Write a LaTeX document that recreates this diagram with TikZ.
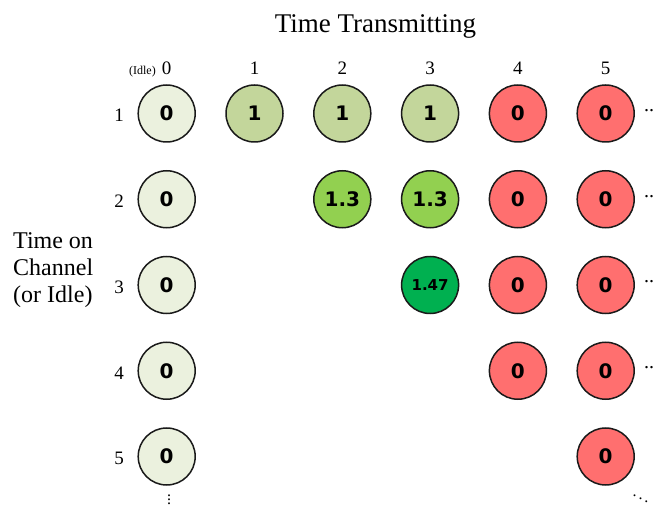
\documentclass[tikz,border=0pt]{standalone}
\usepackage{fontspec}
\setmainfont{Liberation Serif}
\newfontfamily\numfont{DejaVu Sans}
\usetikzlibrary{positioning}

\definecolor{idlefill}{HTML}{EBF1DE}
\definecolor{onefill}{HTML}{C3D69B}
\definecolor{midfill}{HTML}{92D050}
\definecolor{topfill}{HTML}{00B050}
\definecolor{zerofill}{HTML}{FF6F6F}
\definecolor{rimcol}{HTML}{1A1A1A}

\tikzset{
  cell/.style={circle, draw=rimcol, line width=1.5pt, minimum size=57pt,
    inner sep=0pt, font=\numfont\bfseries\fontsize{20}{20}\selectfont},
  idle/.style={cell, fill=idlefill},
  tone/.style={cell, fill=onefill},
  tmid/.style={cell, fill=midfill},
  ttop/.style={cell, fill=topfill, font=\numfont\bfseries\fontsize{15}{15}\selectfont},
  tzero/.style={cell, fill=zerofill},
  axislbl/.style={inner sep=0pt, font=\fontsize{19}{19}\selectfont},
  more/.style={inner sep=0pt, font=\fontsize{20}{20}\selectfont},
  moresmall/.style={inner sep=0pt, font=\fontsize{16}{16}\selectfont}
}

\begin{document}
\begin{tikzpicture}[x=1pt, y=-1pt]
  \useasboundingbox (0,0) rectangle (657,508);

  % column x positions and row y positions
  \def\cA{166.7}\def\cB{254.5}\def\cC{342.3}\def\cD{430.1}\def\cE{517.9}\def\cF{605.7}
  \def\rA{113.5}\def\rB{199.25}\def\rC{285}\def\rD{370.75}\def\rE{456.5}

  % headings
  \node[inner sep=0pt, anchor=base, font=\fontsize{27}{27}\selectfont] (title) at (375.5,33) {Time Transmitting};
  \node[inner sep=0pt, anchor=west, align=left, font=\fontsize{24}{27}\selectfont] (side) at (13,270) {Time on\\Channel\\(or Idle)};

  % column numbers
  \node[axislbl] (h0) at (\cA,68) {0};
  \node[inner sep=0pt, anchor=base east, font=\fontsize{12}{12}\selectfont] (hidle) at (156,75) {(Idle)};
  \node[axislbl] (h1) at (\cB,68) {1};
  \node[axislbl] (h2) at (\cC,68) {2};
  \node[axislbl] (h3) at (\cD,68) {3};
  \node[axislbl] (h4) at (\cE,68) {4};
  \node[axislbl] (h5) at (\cF,68) {5};

  % row numbers
  \node[axislbl] (v1) at (119,\rA+2) {1};
  \node[axislbl] (v2) at (119,\rB+2) {2};
  \node[axislbl] (v3) at (119,\rC+2) {3};
  \node[axislbl] (v4) at (119,\rD+2) {4};
  \node[axislbl] (v5) at (119,\rE+2) {5};

  % row 1
  \node[idle]  (a1) at (\cA,\rA) {0};
  \node[tone]  (b1) at (\cB,\rA) {1};
  \node[tone]  (c1) at (\cC,\rA) {1};
  \node[tone]  (d1) at (\cD,\rA) {1};
  \node[tzero] (e1) at (\cE,\rA) {0};
  \node[tzero] (f1) at (\cF,\rA) {0};
  % row 2
  \node[idle]  (a2) at (\cA,\rB) {0};
  \node[tmid]  (c2) at (\cC,\rB) {1.3};
  \node[tmid]  (d2) at (\cD,\rB) {1.3};
  \node[tzero] (e2) at (\cE,\rB) {0};
  \node[tzero] (f2) at (\cF,\rB) {0};
  % row 3
  \node[idle]  (a3) at (\cA,\rC) {0};
  \node[ttop]  (d3) at (\cD,\rC) {1.47};
  \node[tzero] (e3) at (\cE,\rC) {0};
  \node[tzero] (f3) at (\cF,\rC) {0};
  % row 4
  \node[idle]  (a4) at (\cA,\rD) {0};
  \node[tzero] (e4) at (\cE,\rD) {0};
  \node[tzero] (f4) at (\cF,\rD) {0};
  % row 5
  \node[idle]  (a5) at (\cA,\rE) {0};
  \node[tzero] (f5) at (\cF,\rE) {0};

  % continuation marks
  \node[more, anchor=west] (m1) at (644,\rA-3) {..};
  \node[more, anchor=west] (m2) at (644,\rB-3) {..};
  \node[more, anchor=west] (m3) at (644,\rC-3) {..};
  \node[more, anchor=west] (m4) at (644,\rD-3) {..};
  \node[moresmall] (mdown) at (169,497) {$\vdots$};
  \node[moresmall] (mdiag) at (640.5,496) {$\ddots$};
\end{tikzpicture}
\end{document}
